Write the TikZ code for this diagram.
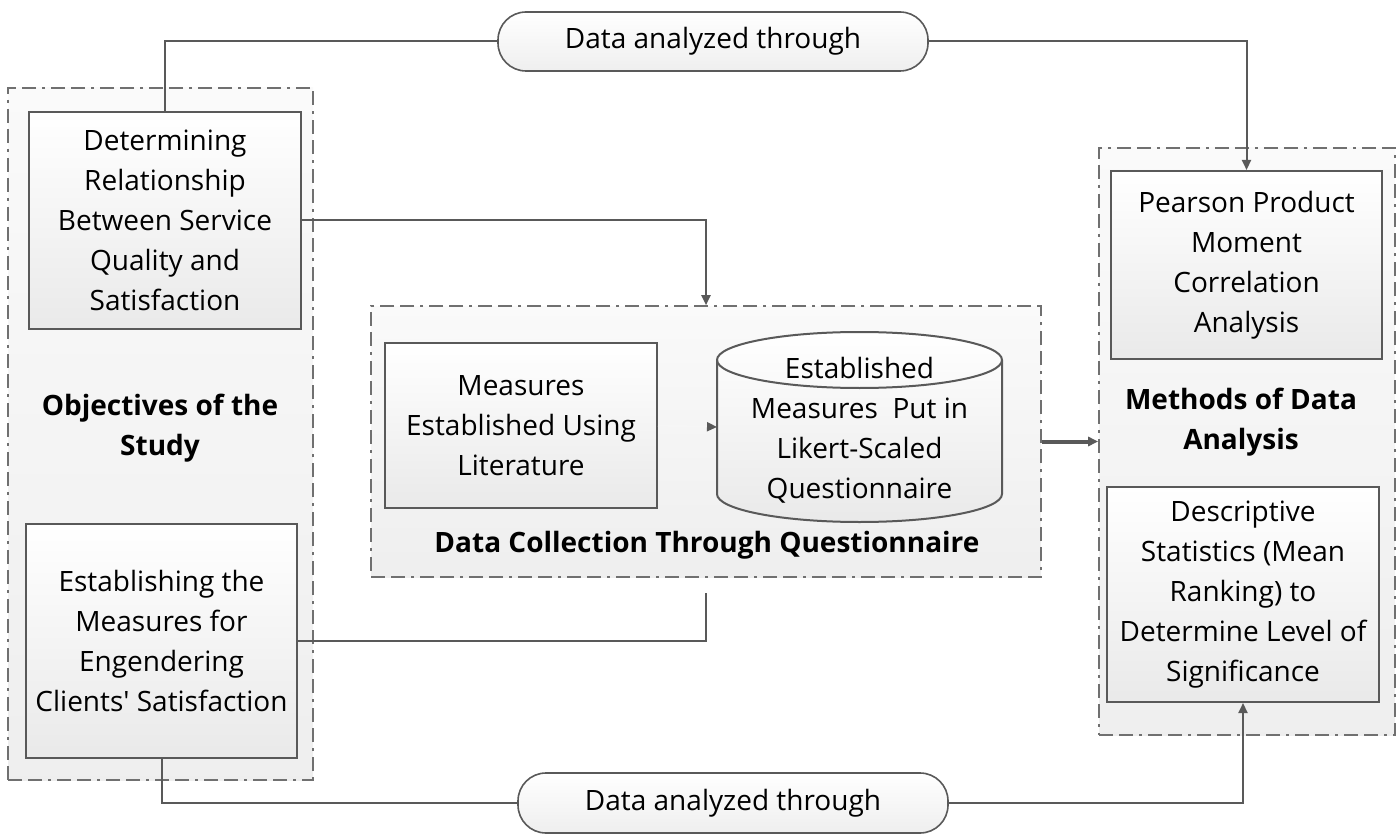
\documentclass[tikz,border=0pt]{standalone}
\usepackage{fontspec}
\setmainfont{Open Sans}
\usetikzlibrary{arrows.meta}
\definecolor{trait}{HTML}{595959}
\definecolor{cadre}{HTML}{707070}
\begin{document}
\begin{tikzpicture}[x=0.5pt,y=-0.5pt,font=\fontsize{14}{20}\selectfont] % 1 unite = 1 pixel
\tikzstyle{groupe}=[draw=cadre, line width=0.8pt, dash pattern=on 7pt off 3pt on 7pt off 3pt on 1.5pt off 3pt, top color=gray!4, bottom color=gray!13]
\tikzstyle{bloc}=[draw=trait, line width=1pt, top color=white, bottom color=gray!17, align=center, inner sep=2pt]
\tikzstyle{pilule}=[draw=trait, line width=0.8pt, rounded corners=14pt, top color=white, bottom color=gray!13, minimum width=215pt]
\tikzstyle{titre}=[font=\fontsize{14}{20}\selectfont\bfseries, align=center]
\tikzstyle{lien}=[draw=trait, line width=1pt]
\tikzstyle{fleche}=[lien, -{Triangle[length=5pt,width=4.5pt,color=trait]}]
\useasboundingbox (0,0) rectangle (1397,834);
% les trois cadres
\node[groupe, minimum width=152.5pt, minimum height=346pt] (objectifs) at (160.5,434) {};
\node[groupe, minimum width=335pt, minimum height=135.5pt] (collecte) at (706,441.5) {};
\node[groupe, minimum width=148pt, minimum height=293.5pt] (methodes) at (1247,441.5) {};
\node[titre] at (160,428) {Objectives of the\\Study};
\node[titre] at (707,545) {Data Collection Through Questionnaire};
\node[titre] at (1241,422) {Methods of Data\\Analysis};
% les blocs
\node[bloc, minimum width=136pt, minimum height=108.5pt] (det) at (165,220.5) {Determining\\Relationship\\Between Service\\Quality and\\Satisfaction};
\node[bloc, minimum width=135.5pt, minimum height=117pt] (etab) at (161.5,641) {Establishing the\\Measures for\\Engendering\\Clients\textquotesingle\ Satisfaction};
\node[bloc, minimum width=136pt, minimum height=82.5pt] (mesures) at (521,425.5) {Measures\\Established Using\\Literature};
% le cylindre
\draw[bloc] (717,360) -- (717,494) arc[start angle=180, end angle=360, x radius=71.25pt, y radius=14pt]
  -- (1002,360) arc[start angle=0, end angle=180, x radius=71.25pt, y radius=14pt] -- cycle;
\draw[lien] (717,360) arc[start angle=180, end angle=360, x radius=71.25pt, y radius=14pt];
\coordinate (cyl) at (717,427);
\node[align=center] (cyltexte) at (859.5,430) {Established\\Measures~ Put in\\Likert-Scaled\\Questionnaire};
\node[bloc, minimum width=135.5pt, minimum height=94pt] (pearson) at (1246.5,265) {Pearson Product\\Moment\\Correlation\\Analysis};
\node[bloc, minimum width=136pt, minimum height=107.5pt] (desc) at (1243,594.5) {Descriptive\\Statistics (Mean\\Ranking) to\\Determine Level of\\Significance};
\node[pilule, minimum height=29.5pt] (haut) at (713,41.5) {Data analyzed through};
\node[pilule, minimum height=30pt] (bas) at (733,803) {Data analyzed through};
% les liaisons
\coordinate (bout) at (706,593);
\draw[lien] (det.north) |- (haut.west);
\draw[fleche] (haut.east) -| (pearson.north);
\draw[fleche] (det.east) -| (collecte.north);
\draw[fleche, draw=gray!7] (mesures.east) -- (cyl);
\draw[fleche, line width=2pt] (collecte.east) -- (methodes.west);
\draw[lien] (etab.east) -| (bout);
\draw[lien] (etab.south) |- (bas.west);
\draw[fleche] (bas.east) -| (desc.south);
\end{tikzpicture}
\end{document}
